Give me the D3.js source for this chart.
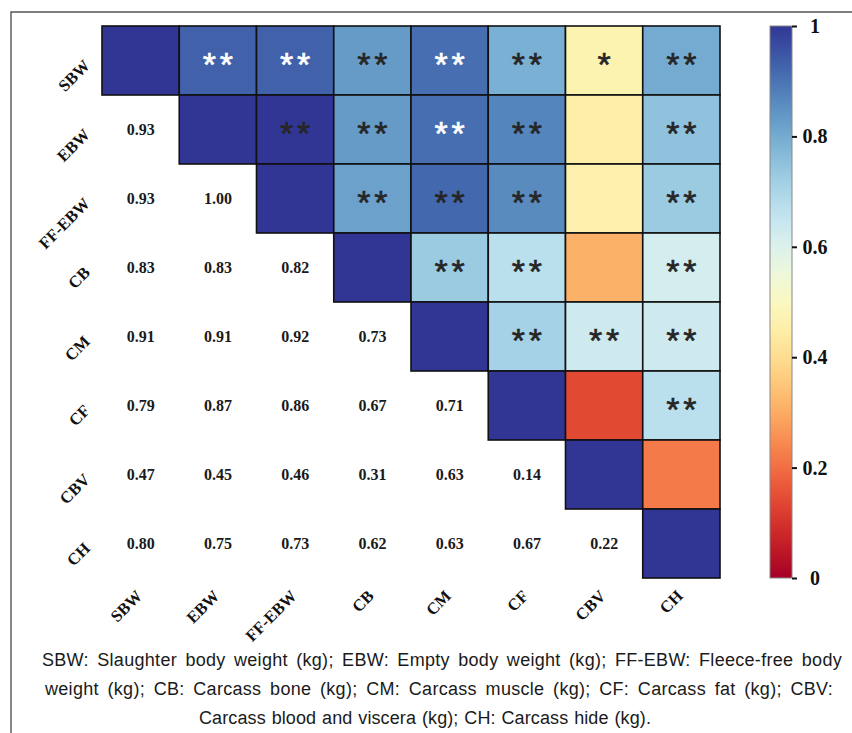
<!DOCTYPE html>
<html>
<head>
<meta charset="utf-8">
<script src="https://cdn.jsdelivr.net/npm/d3@7"></script>
<style>
  html, body { margin: 0; padding: 0; background: #fff; }
  svg { display: block; }
</style>
</head>
<body>
<svg id="chart" width="852" height="733"></svg>
<script>
// ---------- data ----------
const variables = ["SBW", "EBW", "FF-EBW", "CB", "CM", "CF", "CBV", "CH"];

// lower-triangle correlation values, row by row (row i has i values)
const corrRows = [
  [],
  [0.93],
  [0.93, 1.00],
  [0.83, 0.83, 0.82],
  [0.91, 0.91, 0.92, 0.73],
  [0.79, 0.87, 0.86, 0.67, 0.71],
  [0.47, 0.45, 0.46, 0.31, 0.63, 0.14],
  [0.80, 0.75, 0.73, 0.62, 0.63, 0.67, 0.22]
];

// significance marks for the upper triangle, row i, columns i+1..7
const sigRows = [
  ["**", "**", "**", "**", "**", "*", "**"],
  ["**", "**", "**", "**", "", "**"],
  ["**", "**", "**", "", "**"],
  ["**", "**", "", "**"],
  ["**", "**", "**"],
  ["", "**"],
  [""],
  []
];

// which upper-triangle marks are printed in white ("row|col")
const lightMarks = ["SBW|EBW", "SBW|FF-EBW", "SBW|CM", "EBW|CM"];

const colorbarTicks = [0, 0.2, 0.4, 0.6, 0.8, 1];

const captionLines = [
  "SBW: Slaughter body weight (kg); EBW: Empty body weight (kg); FF-EBW: Fleece-free body",
  "weight (kg); CB: Carcass bone (kg); CM: Carcass muscle (kg); CF: Carcass fat (kg); CBV:",
  "Carcass blood and viscera (kg); CH: Carcass hide (kg)."
];

// ---------- build matrix ----------
const n = variables.length;
function corr(i, j) {
  if (i === j) return 1;
  return i > j ? corrRows[i][j] : corrRows[j][i];
}
const cells = [];
for (let i = 0; i < n; i++) {
  for (let j = 0; j < n; j++) {
    cells.push({ i, j, r: variables[i], c: variables[j], v: corr(i, j) });
  }
}

// ---------- layout ----------
const svg = d3.select("#chart");
const gridLeft = 102, gridTop = 26, gridRight = 720, gridBottom = 578;

const x = d3.scaleBand().domain(variables).range([gridLeft, gridRight]).padding(0);
const y = d3.scaleBand().domain(variables).range([gridTop, gridBottom]).padding(0);
const color = d3.scaleSequential(d3.interpolateRdYlBu).domain([0, 1]);

const serif = "'Liberation Serif', 'Times New Roman', serif";
const sans = "'Liberation Sans', Arial, sans-serif";

// frame
svg.append("path")
  .attr("d", "M11,733 L11,12 L852,12")
  .attr("fill", "none")
  .attr("stroke", "#555")
  .attr("stroke-width", 1.4);

// upper triangle (with diagonal) cells
const upper = cells.filter(d => d.j >= d.i);
svg.append("g").selectAll("rect").data(upper).join("rect")
  .attr("x", d => x(d.c))
  .attr("y", d => y(d.r))
  .attr("width", x.bandwidth())
  .attr("height", y.bandwidth())
  .attr("fill", d => color(d.v))
  .attr("stroke", "#111")
  .attr("stroke-width", 1.6);

// significance marks
const marks = [];
for (let i = 0; i < n; i++) {
  sigRows[i].forEach((s, k) => {
    const j = i + 1 + k;
    if (s) marks.push({ r: variables[i], c: variables[j], s });
  });
}
const starSize = 34, starGap = 4;
svg.append("g").selectAll("text").data(marks).join("text")
  .attr("x", d => x(d.c) + x.bandwidth() / 2 + starGap / 2)
  .attr("y", d => y(d.r) + y.bandwidth() / 2 + starSize * 0.59 - 5)
  .attr("text-anchor", "middle")
  .attr("font-family", sans)
  .attr("font-size", starSize)
  .attr("letter-spacing", starGap)
  .attr("stroke", d => lightMarks.includes(d.r + "|" + d.c) ? "#ffffff" : "#262626")
  .attr("stroke-width", 0.6)
  .attr("fill", d => lightMarks.includes(d.r + "|" + d.c) ? "#ffffff" : "#262626")
  .text(d => d.s);

// lower triangle values
const lower = cells.filter(d => d.i > d.j);
svg.append("g").selectAll("text").data(lower).join("text")
  .attr("x", d => x(d.c) + x.bandwidth() / 2)
  .attr("y", d => y(d.r) + y.bandwidth() / 2)
  .attr("dy", "0.35em")
  .attr("text-anchor", "middle")
  .attr("font-family", serif)
  .attr("font-weight", "bold")
  .attr("font-size", 16)
  .attr("fill", "#1a1a1a")
  .text(d => d3.format(".2f")(d.v));

// row labels
svg.append("g").selectAll("text").data(variables).join("text")
  .attr("transform", d => `translate(${gridLeft - 11},${y(d) + y.bandwidth() / 2 + 6}) rotate(-45)`)
  .attr("text-anchor", "end")
  .attr("font-family", serif)
  .attr("font-weight", "bold")
  .attr("font-size", 16.5)
  .attr("fill", "#111")
  .text(d => d);

// column labels
svg.append("g").selectAll("text").data(variables).join("text")
  .attr("transform", d => `translate(${x(d) + x.bandwidth() / 2 + 2.5},${gridBottom + 19}) rotate(-45)`)
  .attr("text-anchor", "end")
  .attr("font-family", serif)
  .attr("font-weight", "bold")
  .attr("font-size", 16.5)
  .attr("fill", "#111")
  .text(d => d);

// ---------- colour bar ----------
const cbX = 770, cbW = 22;
const cbScale = d3.scaleLinear().domain([0, 1]).range([gridBottom, gridTop]);
const defs = svg.append("defs");
const grad = defs.append("linearGradient")
  .attr("id", "cbgrad")
  .attr("x1", 0).attr("y1", 1).attr("x2", 0).attr("y2", 0);
d3.range(0, 1.0001, 0.05).forEach(t => {
  grad.append("stop").attr("offset", t).attr("stop-color", color(t));
});
svg.append("rect")
  .attr("x", cbX).attr("y", gridTop)
  .attr("width", cbW).attr("height", gridBottom - gridTop)
  .attr("fill", "url(#cbgrad)")
  .attr("stroke", "#888")
  .attr("stroke-width", 1);

const cbAxis = svg.append("g")
  .attr("transform", `translate(${cbX + cbW},0)`)
  .call(d3.axisRight(cbScale).tickValues(colorbarTicks).tickSize(5)
    .tickFormat(d => d === 0 || d === 1 ? d3.format("d")(d) : d3.format(".1f")(d)));
cbAxis.select(".domain").remove();
cbAxis.selectAll(".tick line").attr("stroke", "#111").attr("stroke-width", 2);
cbAxis.selectAll(".tick text")
  .attr("x", 23)
  .attr("text-anchor", "middle")
  .attr("font-family", serif)
  .attr("font-weight", "bold")
  .attr("font-size", 20)
  .attr("fill", "#111");

// ---------- caption ----------
const cap = svg.append("g")
  .attr("font-family", sans)
  .attr("font-size", 18)
  .attr("fill", "#1a1a1a");
const capSpecs = [
  { x: 42, y: 666, len: 800 },
  { x: 45, y: 695, len: 788 },
  { x: 199, y: 724, len: 452 }
];
captionLines.forEach((t, k) => {
  const s = capSpecs[k];
  const txt = cap.append("text")
    .attr("x", s.x).attr("y", s.y)
    .text(t);
  const natural = txt.node().getComputedTextLength();
  const spaces = (t.match(/ /g) || []).length;
  let extra = s.len - natural;
  // share the surplus between letters and word gaps
  let ls = Math.max(-0.3, Math.min(0.3, (extra * 0.5) / t.length));
  txt.attr("letter-spacing", ls);
  const after = txt.node().getComputedTextLength();
  txt.attr("word-spacing", (s.len - after) / spaces);
});
</script>
</body>
</html>
